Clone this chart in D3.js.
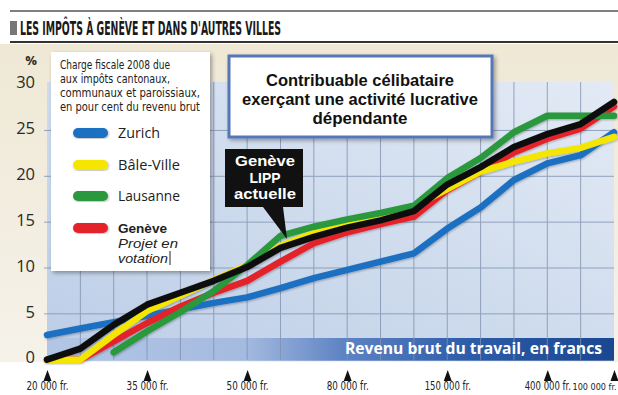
<!DOCTYPE html>
<html>
<head>
<meta charset="utf-8">
<script src="https://cdn.jsdelivr.net/npm/d3@7"></script>
<style>
  html, body { margin: 0; padding: 0; background: #fff; }
  svg { display: block; }
</style>
</head>
<body>
<svg id="chart" width="618" height="395"></svg>
<script>
// Income steps along the horizontal axis (18 steps, labelled every third one)
const steps = [0, 1, 2, 3, 4, 5, 6, 7, 8, 9, 10, 11, 12, 13, 14, 15, 16, 17];
const tickSteps = [0, 3, 6, 9, 12, 15, 17];
const tickLabels = ["20 000 fr.", "35 000 fr.", "50 000 fr.", "80 000 fr.", "150 000 fr.", "400 000 fr.", "100 000 fr."];
const yTicks = [0, 5, 10, 15, 20, 25, 30];

// Tax burden in % of gross income
const zurich   = [2.7, 3.4, 4.1, 4.8, 5.5, 6.2, 6.8, 7.8, 8.9, 9.8, 10.7, 11.6, 14.3, 16.6, 19.6, 21.4, 22.3, 24.8];
const bale     = [0, 0, 2.7, 5.3, 7.0, 8.7, 10.3, 12.4, 13.8, 14.8, 15.6, 16.7, 18.6, 20.5, 21.6, 22.5, 23.1, 24.3];
const lausanne = [null, null, 0.8, 3.1, 5.2, 7.5, 10.3, 13.5, 14.5, 15.3, 16.0, 16.8, 19.8, 22.0, 24.8, 26.6, 26.6, 26.6];
const geneveProjet = [0, 0, 2.0, 4.0, 5.8, 7.3, 8.6, 10.7, 12.7, 13.9, 14.8, 15.6, 18.5, 20.5, 22.6, 24.1, 25.2, 27.6];
const geneveLipp   = [0, 1.2, 3.8, 6.0, 7.3, 8.6, 10.1, 12.2, 13.4, 14.4, 15.2, 16.2, 19.1, 21.0, 23.2, 24.6, 25.7, 28.1];

const seriesNames  = ["Zurich", "Bâle-Ville", "Lausanne", "Genève"];
const seriesColors = ["#1f6fc1", "#f4e600", "#2a983c", "#e4242b"];
const lippColor = "#111111";

const condensed = "'Liberation Sans Narrow', 'DejaVu Sans Condensed', 'Open Sans', sans-serif";
const humanist = "'Open Sans', 'Noto Sans', sans-serif";
const compact = "'Liberation Sans', Arial, sans-serif";

const svg = d3.select("#chart");
const defs = svg.append("defs");

// Gradients and shadows
const bg = defs.append("linearGradient").attr("id", "bgPanel").attr("x1", 0).attr("y1", 0).attr("x2", 0).attr("y2", 1);
bg.append("stop").attr("offset", "0%").attr("stop-color", "#efe8d5");
bg.append("stop").attr("offset", "100%").attr("stop-color", "#f5f2ea");

const plotBg = defs.append("linearGradient").attr("id", "plotBg").attr("x1", 0).attr("y1", 1).attr("x2", 1).attr("y2", 0);
plotBg.append("stop").attr("offset", "0%").attr("stop-color", "#bccde7");
plotBg.append("stop").attr("offset", "60%").attr("stop-color", "#d3dfef");
plotBg.append("stop").attr("offset", "100%").attr("stop-color", "#e3eaf5");

const band = defs.append("linearGradient").attr("id", "band").attr("x1", 0).attr("y1", 0).attr("x2", 1).attr("y2", 0);
band.append("stop").attr("offset", "0%").attr("stop-color", "#b3c6e5");
band.append("stop").attr("offset", "35%").attr("stop-color", "#a4badf");
band.append("stop").attr("offset", "52%").attr("stop-color", "#5f84c4");
band.append("stop").attr("offset", "75%").attr("stop-color", "#2c5ba8");
band.append("stop").attr("offset", "100%").attr("stop-color", "#1a4790");

const shadow = defs.append("filter").attr("id", "boxShadow").attr("x", "-10%").attr("y", "-10%").attr("width", "130%").attr("height", "130%");
shadow.append("feDropShadow").attr("dx", 2).attr("dy", 2).attr("stdDeviation", 2).attr("flood-color", "#000").attr("flood-opacity", 0.35);

const lineShadow = defs.append("filter").attr("id", "lineShadow").attr("x", "-5%").attr("y", "-5%").attr("width", "110%").attr("height", "110%");
lineShadow.append("feDropShadow").attr("dx", 0.8).attr("dy", 1).attr("stdDeviation", 0.8).attr("flood-color", "#000").attr("flood-opacity", 0.3);

// Scales
const x = d3.scaleLinear().domain([0, 17]).range([47, 614]);
const y = d3.scaleLinear().domain([0, 30]).range([359.7, 84.6]);

// Header
svg.append("line").attr("x1", 10).attr("x2", 618).attr("y1", 11).attr("y2", 11).attr("stroke", "#555").attr("stroke-width", 1.5);
svg.append("rect").attr("x", 10).attr("y", 21).attr("width", 7).attr("height", 14).attr("fill", "#777");
svg.append("text").attr("x", 20).attr("y", 35)
  .attr("font-family", condensed).attr("font-stretch", "condensed").attr("font-weight", "bold").attr("font-size", 20)
  .attr("fill", "#1a1a1a").attr("textLength", 261).attr("lengthAdjust", "spacingAndGlyphs")
  .text("LES IMPÔTS À GENÈVE ET DANS D'AUTRES VILLES");
svg.append("line").attr("x1", 10).attr("x2", 618).attr("y1", 42).attr("y2", 42).attr("stroke", "#333").attr("stroke-width", 2.2);

// Panel background
svg.append("rect").attr("x", 0).attr("y", 44).attr("width", 618).attr("height", 318).attr("fill", "url(#bgPanel)");

// Plot area
svg.append("rect").attr("x", x(0)).attr("y", 82).attr("width", x(17) - x(0)).attr("height", y(0) - 82 + 1).attr("fill", "url(#plotBg)");
svg.append("rect").attr("x", x(0)).attr("y", 338).attr("width", x(17) - x(0)).attr("height", y(0) - 338 + 1).attr("fill", "url(#band)");

// Grid
const grid = svg.append("g").attr("stroke", "#7f91ae").attr("stroke-width", 1).attr("opacity", 0.8);
grid.selectAll(".v").data(steps.slice(1, 17)).join("line")
  .attr("x1", d => x(d)).attr("x2", d => x(d)).attr("y1", 82).attr("y2", y(0));
grid.selectAll(".h").data(yTicks.filter(v => v > 0 && v < 30)).join("line")
  .attr("x1", x(0) - 3).attr("x2", x(17)).attr("y1", d => y(d)).attr("y2", d => y(d));

// Axis title in the band
svg.append("text").attr("x", 602).attr("y", 354).attr("text-anchor", "end")
  .attr("font-family", humanist).attr("font-weight", "bold").attr("font-size", 16.5)
  .attr("fill", "#fff").attr("textLength", 257).attr("lengthAdjust", "spacingAndGlyphs")
  .text("Revenu brut du travail, en francs");

// Y axis
const yAxis = svg.append("g").attr("transform", "translate(35,-2)")
  .call(d3.axisLeft(y).tickValues(yTicks).tickSize(0).tickPadding(0));
yAxis.select(".domain").remove();
yAxis.selectAll("text").attr("font-family", humanist).attr("font-size", 16.5).attr("fill", "#2a2a2a");
svg.append("text").attr("x", 31).attr("y", 65).attr("text-anchor", "middle")
  .attr("font-family", humanist).attr("font-weight", "bold").attr("font-size", 13).attr("fill", "#2a2a2a").text("%");

// X axis with triangle markers; the last label is kept inside the right edge
const lastTick = tickSteps.length - 1;
const xAxis = svg.append("g").attr("transform", "translate(0,381)")
  .call(d3.axisBottom(x).tickValues(tickSteps).tickSize(0).tickPadding(3)
    .tickFormat((d, i) => tickLabels[i]));
xAxis.select(".domain").remove();
xAxis.selectAll("text")
  .attr("font-family", condensed).attr("font-stretch", "condensed")
  .attr("font-size", (d, i) => i === lastTick ? 9 : 11.5).attr("fill", "#222")
  .attr("dy", (d, i) => i === lastTick ? "0.65em" : "0.5em")
  .attr("text-anchor", (d, i) => i === lastTick ? "end" : "middle")
  .attr("x", (d, i) => i === lastTick ? 616 - x(d) : 0)
  .each(function (d, i) {
    if (i !== lastTick) {
      d3.select(this).attr("textLength", tickLabels[i].length * 4.2).attr("lengthAdjust", "spacingAndGlyphs");
    }
  });
xAxis.selectAll(".tick").append("path").attr("d", "M-4,0 L4,0 L0,-11 Z").attr("fill", "#111");

// Lines
const line = d3.line().defined(d => d.v != null).x(d => x(d.i)).y(d => y(d.v));
const toPts = arr => steps.map(i => ({ i, v: arr[i] }));
const drawOrder = [
  { data: zurich, color: seriesColors[0] },
  { data: geneveProjet, color: seriesColors[3] },
  { data: bale, color: seriesColors[1] },
  { data: lausanne, color: seriesColors[2] },
  { data: geneveLipp, color: lippColor }
];
svg.append("g").attr("filter", "url(#lineShadow)")
  .selectAll("path").data(drawOrder).join("path")
  .attr("d", d => line(toPts(d.data)))
  .attr("fill", "none").attr("stroke", d => d.color).attr("stroke-width", 6.5)
  .attr("stroke-linejoin", "round").attr("stroke-linecap", "round");

// Legend box
const lg = svg.append("g");
lg.append("rect").attr("x", 51).attr("y", 52).attr("width", 159).attr("height", 219).attr("fill", "#fff").attr("filter", "url(#boxShadow)");
const legendHead = ["Charge fiscale 2008 due", "aux impôts cantonaux,", "communaux et paroissiaux,", "en pour cent du revenu brut"];
const headWidths = [110, 110, 140, 140];
lg.selectAll(".head").data(legendHead).join("text")
  .attr("x", 60).attr("y", (d, i) => 69 + i * 14)
  .attr("font-family", condensed).attr("font-stretch", "condensed").attr("font-size", 12.5).attr("fill", "#222")
  .attr("textLength", (d, i) => headWidths[i]).attr("lengthAdjust", "spacingAndGlyphs")
  .text(d => d);
const swY = [133, 165, 196, 228];
lg.selectAll(".sw").data(seriesColors).join("rect")
  .attr("x", 73).attr("y", (d, i) => swY[i] - 5).attr("width", 35).attr("height", 10).attr("rx", 5)
  .attr("fill", d => d).attr("filter", "url(#lineShadow)");
const labelWidths = [42, 62, 62, 49];
lg.selectAll(".lab").data(seriesNames).join("text")
  .attr("x", 118).attr("y", (d, i) => swY[i] + 5)
  .attr("font-family", (d, i) => i === 3 ? compact : humanist).attr("font-size", (d, i) => i === 3 ? 13.5 : 15)
  .attr("font-weight", (d, i) => i === 3 ? "bold" : "normal").attr("fill", "#222")
  .attr("textLength", (d, i) => labelWidths[i]).attr("lengthAdjust", "spacingAndGlyphs")
  .text(d => d);
lg.append("text").attr("x", 118).attr("y", 247.5)
  .attr("font-family", compact).attr("font-size", 13).attr("font-style", "italic").attr("fill", "#222")
  .attr("textLength", 60).attr("lengthAdjust", "spacingAndGlyphs").text("Projet en");
lg.append("text").attr("x", 118).attr("y", 262.5)
  .attr("font-family", compact).attr("font-size", 13).attr("font-style", "italic").attr("fill", "#222")
  .attr("textLength", 50).attr("lengthAdjust", "spacingAndGlyphs").text("votation");
lg.append("line").attr("x1", 170).attr("x2", 170).attr("y1", 251).attr("y2", 265).attr("stroke", "#222").attr("stroke-width", 1);

// Subject box
const sb = svg.append("g");
sb.append("rect").attr("x", 229).attr("y", 56).attr("width", 263).attr("height", 81)
  .attr("fill", "#fff").attr("stroke", "#5677b7").attr("stroke-width", 3).attr("filter", "url(#boxShadow)");
const subjLines = ["Contribuable célibataire", "exerçant une activité lucrative", "dépendante"];
const subjWidths = [188, 236, 95];
sb.selectAll("text").data(subjLines).join("text")
  .attr("x", 360).attr("y", (d, i) => 86 + i * 19).attr("text-anchor", "middle")
  .attr("font-family", compact).attr("font-weight", "bold").attr("font-size", 16).attr("fill", "#111")
  .attr("textLength", (d, i) => subjWidths[i]).attr("lengthAdjust", "spacingAndGlyphs")
  .text(d => d);

// Callout for the current Geneva law
const co = svg.append("g");
co.append("path").attr("d", "M225,149 L303,149 L303,207 L283,207 L287,239 L263,207 L225,207 Z").attr("fill", "#111");
const coLines = ["Genève", "LIPP", "actuelle"];
const coWidths = [60, 31, 62];
co.selectAll("text").data(coLines).join("text")
  .attr("x", 265).attr("y", (d, i) => 166 + i * 16.5).attr("text-anchor", "middle")
  .attr("font-family", compact).attr("font-weight", "bold").attr("font-size", 14).attr("fill", "#fff")
  .attr("textLength", (d, i) => coWidths[i]).attr("lengthAdjust", "spacingAndGlyphs")
  .text(d => d);
</script>
</body>
</html>
